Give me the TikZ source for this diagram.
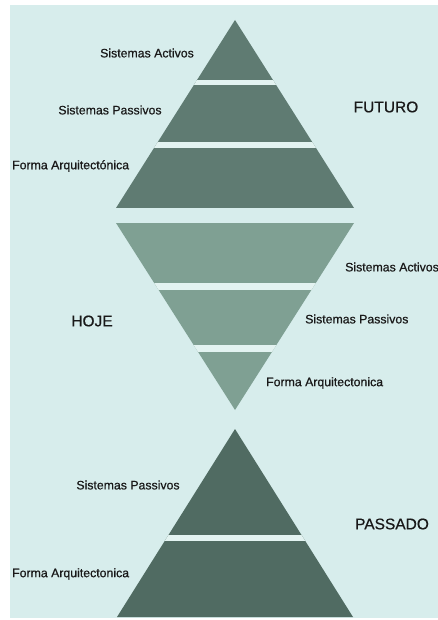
\documentclass[tikz,border=0pt]{standalone}
\usepackage{fontspec}
\setmainfont{Liberation Sans}
\newfontfamily\labelfont[FakeBold=0.6]{Liberation Sans}
\definecolor{bgc}{HTML}{D7EDEC}
\definecolor{gapc}{HTML}{E3F3F1}
\definecolor{topc}{HTML}{5F7B72}
\definecolor{midc}{HTML}{7FA093}
\definecolor{botc}{HTML}{506B62}
\tikzset{
  small/.style={font=\labelfont\fontsize{12.3}{14}\selectfont, inner sep=0pt, text=black!90},
  big/.style={font=\labelfont\fontsize{15.5}{18}\selectfont, inner sep=0pt, text=black!90},
  gapband/.style={fill=gapc}
}
\begin{document}
\begin{tikzpicture}[x=1pt,y=-1pt]
\clip (0,0) rectangle (438,620);
\fill[white] (0,0) rectangle (438,620);
\fill[bgc] (10,5) rectangle (438,618);

% top pyramid (FUTURO)
\begin{scope}
  \clip (235,20) -- (354,208) -- (116,208) -- cycle;
  \fill[topc] (100,0) rectangle (380,210);
  \fill[gapband] (100,80) rectangle (380,85);
  \fill[gapband] (100,142) rectangle (380,148);
\end{scope}

% inverted pyramid (HOJE)
\begin{scope}
  \clip (116,223) -- (354,223) -- (235,410) -- cycle;
  \fill[midc] (100,220) rectangle (380,412);
  \fill[gapband] (100,283) rectangle (380,290);
  \fill[gapband] (100,345) rectangle (380,352);
\end{scope}

% bottom pyramid (PASSADO)
\begin{scope}
  \clip (235,429) -- (353,617) -- (117,617) -- cycle;
  \fill[botc] (100,425) rectangle (380,620);
  \fill[gapband] (100,535) rectangle (380,541);
\end{scope}

% labels top
\node[small] (ta) at (147,53) {Sistemas Activos};
\node[small] (tp) at (110,110) {Sistemas Passivos};
\node[small, anchor=west] (tf) at (12,166) {Forma Arquitectónica};
\node[big] (fut) at (386,107) {FUTURO};

% labels middle
\node[small, anchor=west] (ma) at (345,267) {Sistemas Activos};
\node[big] (hoje) at (92,321) {HOJE};
\node[small, anchor=west] (mp) at (305,319) {Sistemas Passivos};
\node[small, anchor=west] (mf) at (266,383) {Forma Arquitectonica};

% labels bottom
\node[small] (bp) at (128,485) {Sistemas Passivos};
\node[big] (pas) at (392,524) {PASSADO};
\node[small, anchor=west] (bf) at (12,574) {Forma Arquitectonica};
\end{tikzpicture}
\end{document}
